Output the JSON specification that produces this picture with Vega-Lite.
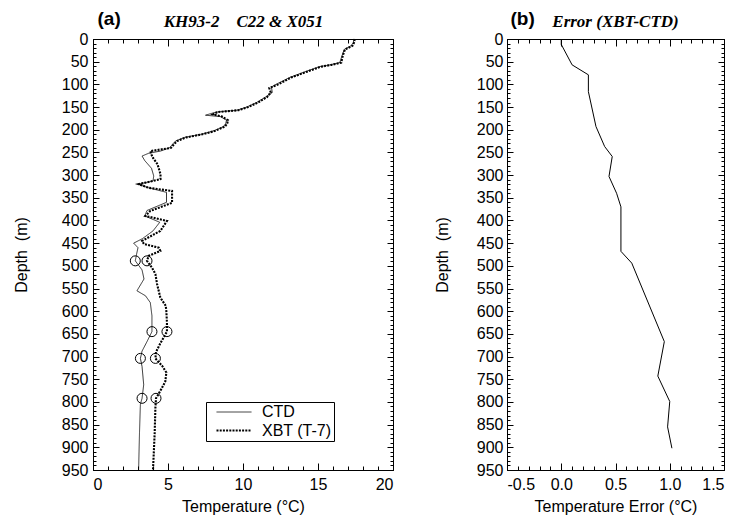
{
  "$schema": "https://vega.github.io/schema/vega-lite/v6.json",
  "background": "white",
  "padding": {"left": 12, "top": 8, "right": 5, "bottom": 5},
  "config": {
    "view": {"stroke": "black", "strokeWidth": 1},
    "axis": {"labelFont": "Liberation Sans", "labelFontSize": 16, "labelColor": "black", "titleFont": "Liberation Sans", "titleFontSize": 16, "titleFontWeight": "normal", "titleColor": "black", "grid": false, "domain": false}
  },
  "datasets": {
    "profiles": [
      {"series": "CTD", "depth": 0, "temp": 17.4}, {"series": "CTD", "depth": 8, "temp": 17.35}, {"series": "CTD", "depth": 15, "temp": 17.2}, {"series": "CTD", "depth": 23, "temp": 16.75}, {"series": "CTD", "depth": 37, "temp": 16.6}, {"series": "CTD", "depth": 52, "temp": 16.45}, {"series": "CTD", "depth": 57, "temp": 15.8}, {"series": "CTD", "depth": 61, "temp": 15.1}, {"series": "CTD", "depth": 74, "temp": 14.0}, {"series": "CTD", "depth": 85, "temp": 13.1}, {"series": "CTD", "depth": 100, "temp": 12.2}, {"series": "CTD", "depth": 106, "temp": 11.9}, {"series": "CTD", "depth": 118, "temp": 11.95}, {"series": "CTD", "depth": 128, "temp": 11.5}, {"series": "CTD", "depth": 140, "temp": 10.9}, {"series": "CTD", "depth": 150, "temp": 10.25}, {"series": "CTD", "depth": 157, "temp": 9.6}, {"series": "CTD", "depth": 161, "temp": 8.2}, {"series": "CTD", "depth": 168, "temp": 7.5}, {"series": "CTD", "depth": 171, "temp": 8.5}, {"series": "CTD", "depth": 179, "temp": 8.9}, {"series": "CTD", "depth": 186, "temp": 8.85}, {"series": "CTD", "depth": 193, "temp": 8.7}, {"series": "CTD", "depth": 203, "temp": 8.0}, {"series": "CTD", "depth": 210, "temp": 7.2}, {"series": "CTD", "depth": 217, "temp": 6.1}, {"series": "CTD", "depth": 225, "temp": 5.5}, {"series": "CTD", "depth": 232, "temp": 5.3}, {"series": "CTD", "depth": 240, "temp": 5.1}, {"series": "CTD", "depth": 247, "temp": 4.5}, {"series": "CTD", "depth": 252, "temp": 3.7}, {"series": "CTD", "depth": 258, "temp": 3.27}, {"series": "CTD", "depth": 268, "temp": 3.45}, {"series": "CTD", "depth": 285, "temp": 3.9}, {"series": "CTD", "depth": 302, "temp": 4.05}, {"series": "CTD", "depth": 313, "temp": 4.0}, {"series": "CTD", "depth": 320, "temp": 3.0}, {"series": "CTD", "depth": 328, "temp": 3.7}, {"series": "CTD", "depth": 338, "temp": 4.9}, {"series": "CTD", "depth": 360, "temp": 4.9}, {"series": "CTD", "depth": 378, "temp": 3.6}, {"series": "CTD", "depth": 390, "temp": 3.45}, {"series": "CTD", "depth": 404, "temp": 4.45}, {"series": "CTD", "depth": 423, "temp": 4.0}, {"series": "CTD", "depth": 440, "temp": 3.3}, {"series": "CTD", "depth": 450, "temp": 2.71}, {"series": "CTD", "depth": 460, "temp": 3.0}, {"series": "CTD", "depth": 475, "temp": 2.9}, {"series": "CTD", "depth": 489, "temp": 2.82}, {"series": "CTD", "depth": 509, "temp": 3.27}, {"series": "CTD", "depth": 529, "temp": 3.4}, {"series": "CTD", "depth": 555, "temp": 2.93}, {"series": "CTD", "depth": 566, "temp": 3.5}, {"series": "CTD", "depth": 581, "temp": 3.82}, {"series": "CTD", "depth": 610, "temp": 3.93}, {"series": "CTD", "depth": 645, "temp": 3.93}, {"series": "CTD", "depth": 667, "temp": 3.6}, {"series": "CTD", "depth": 688, "temp": 3.27}, {"series": "CTD", "depth": 704, "temp": 3.16}, {"series": "CTD", "depth": 722, "temp": 3.27}, {"series": "CTD", "depth": 762, "temp": 3.38}, {"series": "CTD", "depth": 792, "temp": 3.27}, {"series": "CTD", "depth": 805, "temp": 3.16}, {"series": "CTD", "depth": 868, "temp": 3.1}, {"series": "CTD", "depth": 950, "temp": 3.04},
      {"series": "XBT (T-7)", "depth": 0, "temp": 17.45}, {"series": "XBT (T-7)", "depth": 8, "temp": 17.4}, {"series": "XBT (T-7)", "depth": 15, "temp": 17.3}, {"series": "XBT (T-7)", "depth": 23, "temp": 16.8}, {"series": "XBT (T-7)", "depth": 37, "temp": 16.65}, {"series": "XBT (T-7)", "depth": 52, "temp": 16.55}, {"series": "XBT (T-7)", "depth": 57, "temp": 15.9}, {"series": "XBT (T-7)", "depth": 61, "temp": 15.2}, {"series": "XBT (T-7)", "depth": 74, "temp": 14.1}, {"series": "XBT (T-7)", "depth": 85, "temp": 13.2}, {"series": "XBT (T-7)", "depth": 100, "temp": 12.35}, {"series": "XBT (T-7)", "depth": 108, "temp": 11.75}, {"series": "XBT (T-7)", "depth": 118, "temp": 11.85}, {"series": "XBT (T-7)", "depth": 128, "temp": 11.6}, {"series": "XBT (T-7)", "depth": 140, "temp": 11.0}, {"series": "XBT (T-7)", "depth": 150, "temp": 10.35}, {"series": "XBT (T-7)", "depth": 157, "temp": 9.7}, {"series": "XBT (T-7)", "depth": 161, "temp": 8.3}, {"series": "XBT (T-7)", "depth": 166, "temp": 8.0}, {"series": "XBT (T-7)", "depth": 171, "temp": 8.6}, {"series": "XBT (T-7)", "depth": 179, "temp": 9.0}, {"series": "XBT (T-7)", "depth": 186, "temp": 8.95}, {"series": "XBT (T-7)", "depth": 193, "temp": 8.8}, {"series": "XBT (T-7)", "depth": 203, "temp": 8.1}, {"series": "XBT (T-7)", "depth": 210, "temp": 7.3}, {"series": "XBT (T-7)", "depth": 217, "temp": 6.2}, {"series": "XBT (T-7)", "depth": 225, "temp": 5.6}, {"series": "XBT (T-7)", "depth": 232, "temp": 5.4}, {"series": "XBT (T-7)", "depth": 240, "temp": 5.2}, {"series": "XBT (T-7)", "depth": 247, "temp": 3.82}, {"series": "XBT (T-7)", "depth": 255, "temp": 3.9}, {"series": "XBT (T-7)", "depth": 262, "temp": 4.0}, {"series": "XBT (T-7)", "depth": 276, "temp": 4.3}, {"series": "XBT (T-7)", "depth": 298, "temp": 4.5}, {"series": "XBT (T-7)", "depth": 309, "temp": 4.5}, {"series": "XBT (T-7)", "depth": 320, "temp": 3.04}, {"series": "XBT (T-7)", "depth": 328, "temp": 3.71}, {"series": "XBT (T-7)", "depth": 335, "temp": 5.27}, {"series": "XBT (T-7)", "depth": 361, "temp": 5.27}, {"series": "XBT (T-7)", "depth": 379, "temp": 3.82}, {"series": "XBT (T-7)", "depth": 390, "temp": 3.49}, {"series": "XBT (T-7)", "depth": 401, "temp": 4.93}, {"series": "XBT (T-7)", "depth": 423, "temp": 4.49}, {"series": "XBT (T-7)", "depth": 445, "temp": 3.27}, {"series": "XBT (T-7)", "depth": 452, "temp": 3.4}, {"series": "XBT (T-7)", "depth": 460, "temp": 4.38}, {"series": "XBT (T-7)", "depth": 467, "temp": 4.49}, {"series": "XBT (T-7)", "depth": 478, "temp": 3.71}, {"series": "XBT (T-7)", "depth": 489, "temp": 3.6}, {"series": "XBT (T-7)", "depth": 504, "temp": 3.93}, {"series": "XBT (T-7)", "depth": 518, "temp": 4.16}, {"series": "XBT (T-7)", "depth": 540, "temp": 4.27}, {"series": "XBT (T-7)", "depth": 570, "temp": 4.49}, {"series": "XBT (T-7)", "depth": 588, "temp": 4.85}, {"series": "XBT (T-7)", "depth": 600, "temp": 4.89}, {"series": "XBT (T-7)", "depth": 625, "temp": 4.93}, {"series": "XBT (T-7)", "depth": 645, "temp": 4.93}, {"series": "XBT (T-7)", "depth": 670, "temp": 4.5}, {"series": "XBT (T-7)", "depth": 690, "temp": 4.2}, {"series": "XBT (T-7)", "depth": 704, "temp": 4.16}, {"series": "XBT (T-7)", "depth": 720, "temp": 4.6}, {"series": "XBT (T-7)", "depth": 735, "temp": 4.89}, {"series": "XBT (T-7)", "depth": 755, "temp": 4.82}, {"series": "XBT (T-7)", "depth": 775, "temp": 4.5}, {"series": "XBT (T-7)", "depth": 792, "temp": 4.2}, {"series": "XBT (T-7)", "depth": 813, "temp": 4.16}, {"series": "XBT (T-7)", "depth": 870, "temp": 4.11}, {"series": "XBT (T-7)", "depth": 950, "temp": 4.0}
    ],
    "circles": [
      {"series": "CTD", "depth": 489, "temp": 2.82}, {"series": "CTD", "depth": 645, "temp": 3.93}, {"series": "CTD", "depth": 704, "temp": 3.16}, {"series": "CTD", "depth": 792, "temp": 3.27},
      {"series": "XBT (T-7)", "depth": 489, "temp": 3.6}, {"series": "XBT (T-7)", "depth": 645, "temp": 4.93}, {"series": "XBT (T-7)", "depth": 704, "temp": 4.16}, {"series": "XBT (T-7)", "depth": 792, "temp": 4.2}
    ],
    "error": [
      {"depth": 0, "err": 0.0}, {"depth": 12, "err": 0.0}, {"depth": 57, "err": 0.1}, {"depth": 79, "err": 0.25}, {"depth": 116, "err": 0.25}, {"depth": 193, "err": 0.32}, {"depth": 237, "err": 0.4}, {"depth": 259, "err": 0.47}, {"depth": 303, "err": 0.44}, {"depth": 340, "err": 0.51}, {"depth": 370, "err": 0.55}, {"depth": 468, "err": 0.55}, {"depth": 494, "err": 0.65}, {"depth": 667, "err": 0.95}, {"depth": 743, "err": 0.89}, {"depth": 799, "err": 1.0}, {"depth": 855, "err": 0.98}, {"depth": 902, "err": 1.02}
    ]
  },
  "resolve": {"legend": {"strokeDash": "independent", "strokeWidth": "independent"}, "scale": {"strokeDash": "independent", "strokeWidth": "independent"}},
  "spacing": 39,
  "hconcat": [
    {
      "width": 300,
      "height": 431,
      "resolve": {"axis": {"x": "independent", "y": "independent"}},
      "layer": [
        {
          "data": {"name": "profiles"},
          "mark": {"type": "line", "color": "black"},
          "encoding": {
            "x": {"field": "temp", "type": "quantitative", "scale": {"domain": [0, 20], "nice": false, "zero": false},
                  "axis": {"orient": "bottom", "values": [0, 5, 10, 15, 20], "tickColor": "black", "tickWidth": 1, "tickSize": -7, "labelPadding": 13, "title": "Temperature (°C)", "titlePadding": 6}},
            "y": {"field": "depth", "type": "quantitative", "scale": {"domain": [0, 950], "reverse": true, "nice": false, "zero": false},
                  "axis": {"orient": "left", "values": [0,50,100,150,200,250,300,350,400,450,500,550,600,650,700,750,800,850,900,950], "tickColor": "black", "tickWidth": 1, "tickSize": -6, "labelPadding": 11, "title": "Depth\u00a0 (m)", "titlePadding": 32}},
            "order": {"field": "depth", "type": "quantitative"},
            "strokeDash": {"field": "series", "type": "nominal", "scale": {"domain": ["CTD", "XBT (T-7)"], "range": [[1, 0], [2, 1.2]]},
                  "legend": {"orient": "none", "legendX": 113, "legendY": 363, "title": null, "symbolType": "M-2.5,0H2.5", "symbolSize": 196, "symbolOffset": 17.5, "symbolStrokeColor": "black", "strokeColor": "black", "fillColor": "white", "padding": 2, "rowPadding": 2, "labelFont": "Liberation Sans", "labelFontSize": 16, "labelColor": "black", "labelOffset": 19.5}},
            "strokeWidth": {"field": "series", "type": "nominal", "scale": {"domain": ["CTD", "XBT (T-7)"], "range": [0.8, 2.1]},
                  "legend": {"orient": "none", "legendX": 113, "legendY": 363, "title": null, "symbolType": "M-2.5,0H2.5", "symbolSize": 196, "symbolOffset": 17.5, "symbolStrokeColor": "black", "strokeColor": "black", "fillColor": "white", "padding": 2, "rowPadding": 2, "labelFont": "Liberation Sans", "labelFontSize": 16, "labelColor": "black", "labelOffset": 19.5}}
          }
        },
        {
          "data": {"name": "circles"},
          "mark": {"type": "point", "shape": "circle", "filled": false, "size": 100, "stroke": "black", "strokeWidth": 1, "opacity": 1},
          "encoding": {
            "x": {"field": "temp", "type": "quantitative", "axis": {"orient": "top", "values": [0, 5, 10, 15, 20], "labels": false, "tickColor": "black", "tickWidth": 1, "tickSize": 7, "offset": -7,
                  "title": "KH93-2\u00a0\u00a0\u00a0 C22 & X051", "titleFont": "Liberation Serif", "titleFontStyle": "italic", "titleFontWeight": "bold", "titleFontSize": 17, "titleX": 150, "titleY": -20, "titleAlign": "center", "titleBaseline": "alphabetic"}},
            "y": {"field": "depth", "type": "quantitative", "axis": {"orient": "right", "values": [0,50,100,150,200,250,300,350,400,450,500,550,600,650,700,750,800,850,900,950], "labels": false, "tickColor": "black", "tickWidth": 1, "tickSize": 6, "offset": -6, "title": null}}
          }
        },
        {
          "data": {"name": "circles"},
          "mark": {"type": "point", "opacity": 0},
          "encoding": {
            "x": {"field": "temp", "type": "quantitative", "axis": {"orient": "bottom", "values": [0,1,2,3,4,5,6,7,8,9,10,11,12,13,14,15,16,17,18,19,20], "labels": false, "tickColor": "black", "tickWidth": 1, "tickSize": 4, "offset": -4, "title": null}},
            "y": {"field": "depth", "type": "quantitative", "axis": {"orient": "left", "values": [0,10,20,30,40,50,60,70,80,90,100,110,120,130,140,150,160,170,180,190,200,210,220,230,240,250,260,270,280,290,300,310,320,330,340,350,360,370,380,390,400,410,420,430,440,450,460,470,480,490,500,510,520,530,540,550,560,570,580,590,600,610,620,630,640,650,660,670,680,690,700,710,720,730,740,750,760,770,780,790,800,810,820,830,840,850,860,870,880,890,900,910,920,930,940,950], "labels": false, "tickColor": "black", "tickWidth": 1, "tickSize": 3, "offset": -3, "title": null}}
          }
        },
        {
          "data": {"name": "circles"},
          "mark": {"type": "point", "opacity": 0},
          "encoding": {
            "x": {"field": "temp", "type": "quantitative", "axis": {"orient": "top", "values": [0,1,2,3,4,5,6,7,8,9,10,11,12,13,14,15,16,17,18,19,20], "labels": false, "tickColor": "black", "tickWidth": 1, "tickSize": 4, "offset": -4,
                  "title": "(a)", "titleFont": "Liberation Sans", "titleFontWeight": "bold", "titleFontSize": 19, "titleX": 4, "titleY": -19, "titleAlign": "left", "titleBaseline": "alphabetic"}},
            "y": {"field": "depth", "type": "quantitative", "axis": {"orient": "right", "values": [0,10,20,30,40,50,60,70,80,90,100,110,120,130,140,150,160,170,180,190,200,210,220,230,240,250,260,270,280,290,300,310,320,330,340,350,360,370,380,390,400,410,420,430,440,450,460,470,480,490,500,510,520,530,540,550,560,570,580,590,600,610,620,630,640,650,660,670,680,690,700,710,720,730,740,750,760,770,780,790,800,810,820,830,840,850,860,870,880,890,900,910,920,930,940,950], "labels": false, "tickColor": "black", "tickWidth": 1, "tickSize": 3, "offset": -3, "title": null}}
          }
        }
      ]
    },
    {
      "width": 217,
      "height": 431,
      "resolve": {"axis": {"x": "independent", "y": "independent"}},
      "layer": [
        {
          "data": {"name": "error"},
          "mark": {"type": "line", "color": "black", "strokeWidth": 1},
          "encoding": {
            "x": {"field": "err", "type": "quantitative", "scale": {"domain": [-0.5, 1.5], "nice": false, "zero": false},
                  "axis": {"orient": "bottom", "values": [-0.5, 0, 0.5, 1, 1.5], "format": ".1f", "labelExpr": "replace(datum.label, '\u2212', '-')", "tickColor": "black", "tickWidth": 1, "tickSize": -7, "labelPadding": 13, "title": "Temperature Error (°C)", "titlePadding": 6}},
            "y": {"field": "depth", "type": "quantitative", "scale": {"domain": [0, 950], "reverse": true, "nice": false, "zero": false},
                  "axis": {"orient": "left", "values": [0,50,100,150,200,250,300,350,400,450,500,550,600,650,700,750,800,850,900,950], "tickColor": "black", "tickWidth": 1, "tickSize": -6, "labelPadding": 10, "title": "Depth\u00a0 (m)", "titlePadding": 26}},
            "order": {"field": "depth", "type": "quantitative"}
          }
        },
        {
          "data": {"name": "error"},
          "mark": {"type": "point", "opacity": 0},
          "encoding": {
            "x": {"field": "err", "type": "quantitative", "axis": {"orient": "top", "values": [-0.5, 0, 0.5, 1, 1.5], "labels": false, "tickColor": "black", "tickWidth": 1, "tickSize": 7, "offset": -7,
                  "title": "Error (XBT-CTD)", "titleFont": "Liberation Serif", "titleFontStyle": "italic", "titleFontWeight": "bold", "titleFontSize": 17, "titleX": 108, "titleY": -20, "titleAlign": "center", "titleBaseline": "alphabetic"}},
            "y": {"field": "depth", "type": "quantitative", "axis": {"orient": "right", "values": [0,50,100,150,200,250,300,350,400,450,500,550,600,650,700,750,800,850,900,950], "labels": false, "tickColor": "black", "tickWidth": 1, "tickSize": 6, "offset": -6, "title": null}}
          }
        },
        {
          "data": {"name": "error"},
          "mark": {"type": "point", "opacity": 0},
          "encoding": {
            "x": {"field": "err", "type": "quantitative", "axis": {"orient": "bottom", "values": [-0.5,-0.4,-0.3,-0.2,-0.1,0,0.1,0.2,0.3,0.4,0.5,0.6,0.7,0.8,0.9,1,1.1,1.2,1.3,1.4,1.5], "labels": false, "tickColor": "black", "tickWidth": 1, "tickSize": 4, "offset": -4, "title": null}},
            "y": {"field": "depth", "type": "quantitative", "axis": {"orient": "left", "values": [0,10,20,30,40,50,60,70,80,90,100,110,120,130,140,150,160,170,180,190,200,210,220,230,240,250,260,270,280,290,300,310,320,330,340,350,360,370,380,390,400,410,420,430,440,450,460,470,480,490,500,510,520,530,540,550,560,570,580,590,600,610,620,630,640,650,660,670,680,690,700,710,720,730,740,750,760,770,780,790,800,810,820,830,840,850,860,870,880,890,900,910,920,930,940,950], "labels": false, "tickColor": "black", "tickWidth": 1, "tickSize": 3, "offset": -3, "title": null}}
          }
        },
        {
          "data": {"name": "error"},
          "mark": {"type": "point", "opacity": 0},
          "encoding": {
            "x": {"field": "err", "type": "quantitative", "axis": {"orient": "top", "values": [-0.5,-0.4,-0.3,-0.2,-0.1,0,0.1,0.2,0.3,0.4,0.5,0.6,0.7,0.8,0.9,1,1.1,1.2,1.3,1.4,1.5], "labels": false, "tickColor": "black", "tickWidth": 1, "tickSize": 4, "offset": -4,
                  "title": "(b)", "titleFont": "Liberation Sans", "titleFontWeight": "bold", "titleFontSize": 19, "titleX": 3, "titleY": -19, "titleAlign": "left", "titleBaseline": "alphabetic"}},
            "y": {"field": "depth", "type": "quantitative", "axis": {"orient": "right", "values": [0,10,20,30,40,50,60,70,80,90,100,110,120,130,140,150,160,170,180,190,200,210,220,230,240,250,260,270,280,290,300,310,320,330,340,350,360,370,380,390,400,410,420,430,440,450,460,470,480,490,500,510,520,530,540,550,560,570,580,590,600,610,620,630,640,650,660,670,680,690,700,710,720,730,740,750,760,770,780,790,800,810,820,830,840,850,860,870,880,890,900,910,920,930,940,950], "labels": false, "tickColor": "black", "tickWidth": 1, "tickSize": 3, "offset": -3, "title": null}}
          }
        }
      ]
    }
  ]
}
